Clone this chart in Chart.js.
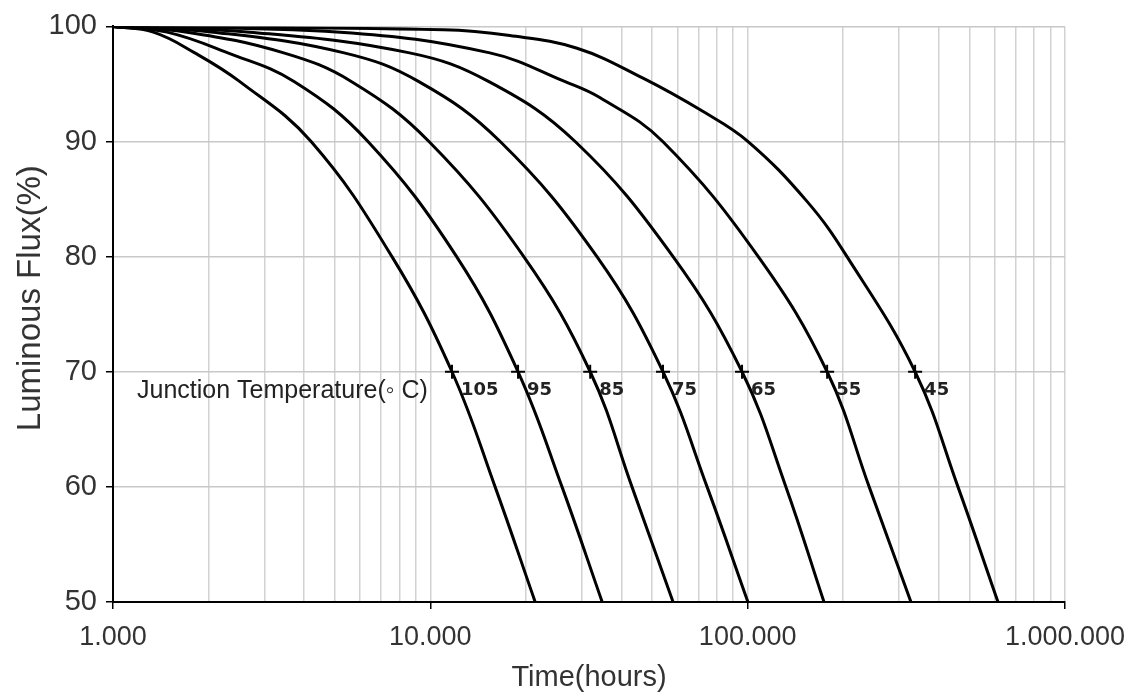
<!DOCTYPE html>
<html>
<head>
<meta charset="utf-8">
<script src="https://cdn.jsdelivr.net/npm/chart.js@4.4.0/dist/chart.umd.min.js"></script>
<style>
    html, body { margin: 0; padding: 0; background: #fff; }
    #wrap { width: 1126px; height: 693px; position: relative; }
</style>
</head>
<body>
<div id="wrap"><canvas id="flux-chart"></canvas></div>
<script>
const fluxLevels = [100, 99.5, 97.7, 95.2, 90, 80, 70, 60, 50];

// Time (hours) at those flux levels, one array per junction temperature
const time105 = [1000, 1340, 1810, 2510, 4210, 7570, 11700, 16000, 21400];
const time95  = [1000, 1480, 2300, 3730, 6360, 12100, 18900, 26000, 34800];
const time85  = [1000, 1710, 3450, 5650, 9900, 19700, 31900, 43200, 58200];
const time75  = [1000, 2070, 5350, 9200, 16600, 33500, 54100, 74500, 100200];
const time65  = [1000, 2700, 8600, 15300, 28600, 58200, 96000, 132000, 174000];

// the two flattest curves were read at a few more points
const flux55  = [100, 99.5, 97.7, 95.2, 93.8, 90, 80, 70, 60, 50];
const time55  = [1000, 5200, 15400, 26600, 34300, 54000, 108000, 178000, 241500, 327000];
const flux45  = [100, 99.7, 99.2, 98.1, 95.5, 92.6, 90, 84.8, 80, 70, 60, 50];
const time45  = [1000, 11000, 17800, 29000, 46800, 72400, 100300, 153800, 205600, 337000, 460000, 615000];

const junctionTemps = ['105', '95', '85', '75', '65', '55', '45'];
const curveTimes = [time105, time95, time85, time75, time65, time55, time45];
const curveFlux = [fluxLevels, fluxLevels, fluxLevels, fluxLevels, fluxLevels, flux55, flux45];

// Axis ticks
const majorTicks = [1000, 10000, 100000, 1000000];
const xTickLabels = ['1.000', '10.000', '100.000', '1.000.000'];
const yTicks = [50, 60, 70, 80, 90, 100];
const markLevel = 70;

// gridlines at 1..9 x each decade
const gridTicks = [];
for (let d = 0; d < majorTicks.length - 1; d++) {
    for (let k = 1; k < 10; k++) gridTicks.push(k * majorTicks[d]);
}
gridTicks.push(majorTicks[majorTicks.length - 1]);

// time where each curve crosses the 70% line
const markTimes = curveTimes.map((t, i) => t[curveFlux[i].indexOf(markLevel)]);

const curveSets = curveTimes.map((times, i) => ({
    label: junctionTemps[i],
    data: curveFlux[i].map((f, j) => ({ x: times[j], y: f })),
    borderColor: '#000',
    borderWidth: 3,
    pointRadius: 0,
    fill: false,
    tension: 0.4
}));

const markerSet = {
    label: 'marks',
    data: markTimes.map(t => ({ x: t, y: markLevel })),
    showLine: false,
    pointStyle: 'cross',
    pointRadius: 7,
    borderWidth: 2,
    borderColor: '#000'
};

const fontFamily = '"Liberation Sans", Arial, sans-serif';

// Y title, temperature labels next to the markers
const textLabels = {
    id: 'textLabels',
    afterDatasetsDraw(chart) {
        const { ctx, chartArea, scales: { x, y } } = chart;
        const yPix = y.getPixelForValue(markLevel) + 19;
        ctx.save();
        ctx.fillStyle = '#222';
        ctx.textBaseline = 'middle';
        ctx.textAlign = 'left';
        ctx.font = '25px ' + fontFamily;
        ctx.fillText('Junction Temperature(\u25E6 C)', chartArea.left + 24, yPix);
        ctx.font = 'bold 18px "DejaVu Sans", sans-serif';
        markTimes.forEach((t, i) => {
            ctx.fillText(junctionTemps[i], x.getPixelForValue(t) + 9, yPix);
        });

        // rotated axis title
        ctx.fillStyle = '#333';
        ctx.font = '33px ' + fontFamily;
        ctx.textAlign = 'center';
        ctx.translate(31, (chartArea.top + chartArea.bottom) / 2 - 16);
        ctx.rotate(-Math.PI / 2);
        ctx.fillText('Luminous Flux(%)', 0, 0);
        ctx.restore();
    }
};

new Chart(document.querySelector('#flux-chart'), {
    type: 'line',
    data: { datasets: [...curveSets, markerSet] },
    options: {
        responsive: true,
        maintainAspectRatio: false,
        animation: false,
        layout: { padding: { top: 25, right: 61, left: 0, bottom: 0 } },
        plugins: {
            legend: { display: false },
            tooltip: { enabled: false }
        },
        scales: {
            x: {
                type: 'logarithmic',
                min: 1000,
                max: 1000000,
                afterBuildTicks: (scale) => {
                    scale.ticks = gridTicks.map(v => ({ value: v }));
                },
                afterFit: (scale) => {
                    scale.height = 91;
                    scale.paddingLeft = 0;
                    scale.paddingRight = 0;
                },
                ticks: {
                    autoSkip: false,
                    maxRotation: 0,
                    padding: 12,
                    color: '#333',
                    font: { family: fontFamily, size: 27 },
                    callback: (value) => {
                        const i = majorTicks.indexOf(value);
                        return i >= 0 ? xTickLabels[i] : '';
                    }
                },
                grid: {
                    color: '#d2d2d2',
                    lineWidth: 1.5,
                    tickLength: 7,
                    tickColor: (ctx) => majorTicks.includes(ctx.tick && ctx.tick.value) ? '#000' : 'rgba(0,0,0,0)'
                },
                border: { color: '#000', width: 2 },
                title: {
                    display: true,
                    text: 'Time(hours)',
                    color: '#333',
                    font: { family: fontFamily, size: 29, lineHeight: 1 },
                    padding: { top: 0, bottom: 1 }
                }
            },
            y: {
                min: 50,
                max: 100,
                afterBuildTicks: (scale) => {
                    scale.ticks = yTicks.map(v => ({ value: v }));
                },
                afterFit: (scale) => { scale.width = 113; },
                ticks: {
                    padding: 9,
                    color: '#333',
                    font: { family: fontFamily, size: 29 }
                },
                grid: {
                    color: '#c8c8c8',
                    lineWidth: 1.5,
                    tickLength: 7,
                    tickColor: '#000'
                },
                border: { color: '#000', width: 2 }
            }
        }
    },
    plugins: [textLabels]
});
</script>
</body>
</html>
